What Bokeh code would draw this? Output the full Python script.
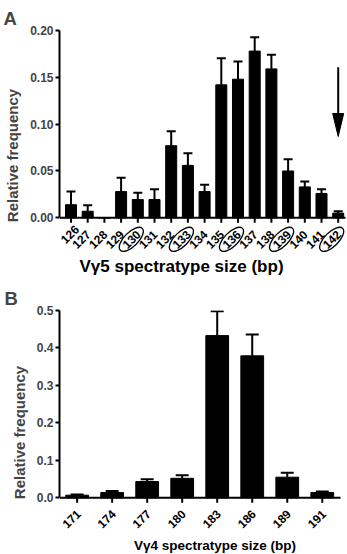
from math import pi
from bokeh.plotting import figure
from bokeh.layouts import column
from bokeh.models import Range1d, FixedTicker, NumeralTickFormatter
from bokeh.embed import file_html
from bokeh.resources import INLINE
from bokeh.core.properties import value

# ---------------- data ----------------
sizes_a = ["126", "127", "128", "129", "130", "131", "132", "133", "134",
           "135", "136", "137", "138", "139", "140", "141", "142"]
freq_a = [0.014, 0.007, 0.0, 0.028, 0.0195, 0.0195, 0.077, 0.056, 0.028,
          0.142, 0.148, 0.178, 0.159, 0.050, 0.033, 0.026, 0.005]
sem_a = [0.014, 0.0065, 0.0, 0.0147, 0.0072, 0.011, 0.0155, 0.013, 0.0072,
         0.0284, 0.019, 0.0148, 0.015, 0.0126, 0.0058, 0.0045, 0.002]
circled_a = ["130", "133", "136", "139", "142"]
arrow_at_a = "142"
yticks_a = [0.0, 0.05, 0.10, 0.15, 0.20]

sizes_b = ["171", "174", "177", "180", "183", "186", "189", "191"]
freq_b = [0.007, 0.014, 0.0435, 0.052, 0.433, 0.379, 0.055, 0.014]
sem_b = [0.002, 0.004, 0.006, 0.008, 0.065, 0.057, 0.012, 0.003]
yticks_b = [0.0, 0.1, 0.2, 0.3, 0.4, 0.5]

FONT = "Liberation Sans"
W = 347


def panel(letter, sizes, freq, sem, yticks, fmt, xlabel, g, circled=(), arrow_at=None):
    L, T, H = g["L"], g["T"], g["H"]
    ppx, ppy = g["ppu_x"], g["ppu_y"]
    x_start = -(g["first_px"] - L) / ppx
    y_top = yticks[-1]

    def X(px):
        return x_start + (px - L) / ppx

    def Y(py):
        return y_top - (py - T) / ppy

    p = figure(width=W, height=H,
               x_range=Range1d(x_start, X(W)), y_range=Range1d(Y(H), y_top),
               min_border_left=L, min_border_right=0, min_border_top=T,
               min_border_bottom=0, toolbar_location=None, output_backend="svg",
               title=letter)
    p.outline_line_color = None
    p.xgrid.visible = False
    p.ygrid.visible = False
    p.xaxis.visible = False

    p.title.text_font = FONT
    p.title.text_font_size = g["title_size"]
    p.title.text_font_style = "bold"
    p.title.align = "left"
    p.title.offset = 3 - L
    p.title.standoff = g["title_standoff"]

    ax = p.yaxis[0]
    ax.bounds = (yticks[0], yticks[-1])
    ax.ticker = FixedTicker(ticks=yticks)
    ax.formatter = NumeralTickFormatter(format=fmt)
    ax.axis_line_width = 2
    ax.major_tick_line_width = 2
    ax.major_tick_out = 4
    ax.major_tick_in = 0
    ax.minor_tick_line_color = None
    ax.major_label_text_font = FONT
    ax.major_label_text_font_style = "bold"
    ax.major_label_text_font_size = "12px"
    ax.major_label_standoff = 2
    ax.axis_label = "Relative frequency"
    ax.axis_label_text_font = FONT
    ax.axis_label_text_font_style = "bold"
    ax.axis_label_text_font_size = g["ylab_size"]
    ax.axis_label_standoff = g["ylab_standoff"]

    idx = list(range(len(sizes)))
    # bars
    p.vbar(x=idx, top=freq, bottom=0, width=g["bar_w"], color="black")
    # error bars (upper only)
    ei = [i for i in idx if freq[i] > 0]
    up = [freq[i] + sem[i] for i in ei]
    p.segment(x0=ei, y0=[freq[i] for i in ei], x1=ei, y1=up,
              line_color="black", line_width=2)
    cw = g["cap_px"] / ppx / 2
    p.segment(x0=[i - cw for i in ei], y0=up, x1=[i + cw for i in ei], y1=up,
              line_color="black", line_width=2)
    # x axis line and ticks
    p.segment(x0=[x_start], y0=[0], x1=[X(g["axis_end_px"])], y1=[0],
              line_color="black", line_width=2)
    tick_len = 5 / ppy
    p.segment(x0=idx, y0=[0] * len(idx), x1=idx, y1=[-tick_len] * len(idx),
              line_color="black", line_width=2)
    # rotated tick labels; a label that would be cut by the frame's left edge
    # is slid along its own 45-degree direction until it fits
    fs = float(g["tick_size"].rstrip("px"))
    half_ext = (len(sizes[0]) * 0.52 * fs + 0.7 * fs) * 0.7071 / 2
    min_px = half_ext + 0.5
    lx, ly = [], []
    for i in idx:
        cx_px = (i - x_start) * ppx + g["lab_dx"]
        down = g["lab_dy"]
        if cx_px < min_px:
            s = min_px - cx_px
            cx_px += s
            down -= s
        lx.append(x_start + cx_px / ppx)
        ly.append(-down / ppy)
    p.text(x=lx, y=ly, text=sizes, angle=pi / 4, text_align="center",
           text_baseline="middle", text_font=value(FONT), text_font_style="bold",
           text_font_size=g["tick_size"], text_color="black")
    # circled labels
    ci = [i for i in idx if sizes[i] in circled]
    if ci:
        p.ellipse(x=[lx[i] for i in ci], y=[ly[i] for i in ci],
                  width=g["ell"][0], height=g["ell"][1],
                  width_units="screen", height_units="screen", angle=pi / 4,
                  fill_color=None, line_color="black", line_width=1.3)
    # x axis title
    p.text(x=[X(g["xlab_px"][0])], y=[Y(g["xlab_px"][1])], text=[xlabel],
           text_align="center", text_baseline="middle", text_font=value(FONT),
           text_font_style="bold", text_font_size=g["xlab_size"], text_color="black")
    # arrow
    if arrow_at is not None:
        ai = sizes.index(arrow_at)
        y0, yb, yt = g["arrow_px"]
        p.segment(x0=[ai], y0=[Y(y0)], x1=[ai], y1=[Y(yb + 2)],
                  line_color="black", line_width=2)
        hw = 5.5 / ppx
        p.patch(x=[ai - hw, ai + hw, ai], y=[Y(yb), Y(yb), Y(yt)],
                fill_color="black", line_color="black", line_width=1)
    return p


geo_a = dict(L=59, T=30, H=280, ppu_x=16.7, first_px=70.5, ppu_y=936.5,
             bar_w=0.66, cap_px=9, axis_end_px=345, lab_dx=-6.5, lab_dy=21.5,
             tick_size="12px", ell=(31, 14),
             xlab_px=(181, 266), xlab_size="17px", ylab_size="15px", ylab_standoff=6,
             title_size="18.5px", title_standoff=4, arrow_px=(66.7, 113, 136))
geo_b = dict(L=58, T=30, H=274, ppu_x=35.14, first_px=75.7, ppu_y=374.6,
             bar_w=0.65, cap_px=13, axis_end_px=340, lab_dx=-5.7, lab_dy=21,
             tick_size="12px",
             xlab_px=(214, 264.5), xlab_size="13.5px", ylab_size="15px", ylab_standoff=6,
             title_size="18.5px", title_standoff=4)

pa = panel("A", sizes_a, freq_a, sem_a, yticks_a, "0.00", "Vγ5 spectratype size (bp)",
           geo_a, circled=circled_a, arrow_at=arrow_at_a)
pb = panel("B", sizes_b, freq_b, sem_b, yticks_b, "0.0", "Vγ4 spectratype size (bp)",
           geo_b)

layout = column(pa, pb, spacing=0)
open("out.html", "w").write(file_html(layout, INLINE))
